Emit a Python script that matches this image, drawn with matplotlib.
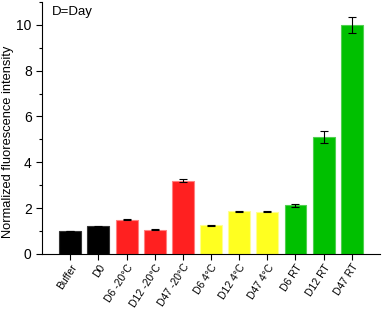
import numpy as np
import matplotlib.pyplot as plt
from matplotlib.ticker import MultipleLocator

plt.rcParams['font.family'] = ['Liberation Sans', 'DejaVu Sans']

labels = ['Buffer', 'D0', 'D6 -20°C', 'D12 -20°C', 'D47 -20°C', 'D6 4°C',
          'D12 4°C', 'D47 4°C', 'D6 RT', 'D12 RT', 'D47 RT']
values = [1.0, 1.2, 1.5, 1.05, 3.2, 1.25, 1.87, 1.85, 2.12, 5.1, 9.97]
errors = [0.01, 0.01, 0.03, 0.02, 0.07, 0.02, 0.02, 0.02, 0.07, 0.25, 0.35]
colors = ['#000000', '#000000', '#ff2020', '#ff2020', '#ff2020', '#ffff20',
          '#ffff20', '#ffff20', '#00c000', '#00c000', '#00c000']
edges = ['#333333', '#333333', '#ff8080', '#ff8080', '#ff8080', '#ffff90',
         '#ffff90', '#ffff90', '#50d050', '#50d050', '#50d050']

fig = plt.figure(figsize=(3.83, 3.12), dpi=100)
ax = fig.add_axes([0.11, 0.186, 0.882, 0.808])
x = np.arange(len(labels))
ax.bar(x, values, width=0.78, color=colors, edgecolor=edges, linewidth=0.8)
ax.errorbar(x, values, yerr=errors, fmt='none', ecolor='black', elinewidth=0.8,
            capsize=3, capthick=0.8)

ax.set_xlim(-1, 11)
ax.set_ylim(0, 11)
ax.set_xticks(x)
ax.set_xticklabels(labels, rotation=57, ha='right', rotation_mode='anchor', fontsize=7.5)
ax.yaxis.set_major_locator(MultipleLocator(2))
ax.yaxis.set_minor_locator(MultipleLocator(1))
ax.tick_params(axis='y', labelsize=10, length=4, width=0.8)
ax.tick_params(axis='y', which='minor', length=2.5, width=0.8)
ax.tick_params(axis='x', length=4, width=0.8, pad=2)
ax.spines['top'].set_visible(False)
ax.spines['right'].set_visible(False)
ax.set_ylabel('Normalized fluorescence intensity', fontsize=9.3)
ax.yaxis.set_label_coords(-0.082, 0.445)
ax.text(0.03, 0.985, 'D=Day', transform=ax.transAxes, fontsize=9.5, va='top')

fig.savefig('out.png', dpi=100)
